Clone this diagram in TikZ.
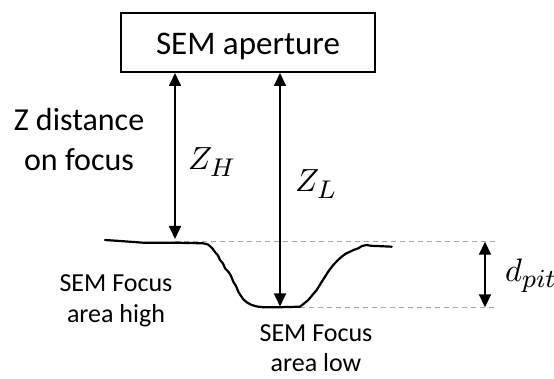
\documentclass[tikz,border=0pt]{standalone}
\usepackage{fontspec}
\setmainfont{Carlito}
\usetikzlibrary{arrows.meta}
% larger subscripts for the symbol labels
\DeclareMathSizes{10}{10}{7.8}{6}
\newcommand{\biglabel}[2][3.2]{\scalebox{#1}{\fontsize{10}{12}\selectfont$#2$}}
\begin{document}
\begin{tikzpicture}[x=1pt,y=-1pt,
  dim/.style={line width=1.7pt,{Triangle[length=13pt,width=12pt]}-{Triangle[length=13pt,width=12pt]}},
  guide/.style={draw=black!35,line width=0.9pt,dash pattern=on 5pt off 4pt},
  surface/.style={line width=2.2pt,line join=round,line cap=round},
  lbl/.style={anchor=base,inner sep=0pt},
  mathlbl/.style={anchor=base west,inner sep=0pt}]
\useasboundingbox (0,0) rectangle (554,379);

% aperture box
\node[draw,line width=2pt,minimum width=254pt,minimum height=59pt,inner sep=0pt]
  (ap) at (248,42.5) {};
\node[lbl,font=\fontsize{33}{40}\selectfont] (aptext) at (248,55) {SEM aperture};

% side labels
\node[lbl,font=\fontsize{32}{40}\selectfont] (zd1) at (79,130.7) {Z distance};
\node[lbl,font=\fontsize{32}{40}\selectfont] (zd2) at (79,170.5) {on focus};
\node[lbl,font=\fontsize{26}{33}\selectfont] (fh1) at (116,291) {SEM Focus};
\node[lbl,font=\fontsize{26}{33}\selectfont] (fh2) at (116,323) {area high};
\node[lbl,font=\fontsize{26}{33}\selectfont] (fl1) at (316,341) {SEM Focus};
\node[lbl,font=\fontsize{26}{33}\selectfont] (fl2) at (316,371) {area low};

% reference points on the surface
\coordinate (surfH) at (175,239);
\coordinate (pitB)  at (280,306.5);
\coordinate (topL)  at (175,241.7);
\coordinate (topR)  at (498,241.7);
\coordinate (botL)  at (300,307.3);
\coordinate (botR)  at (498,307.3);
\coordinate (dTop)  at (485,241.7);
\coordinate (dBot)  at (485,307.3);

% level guides
\draw[guide] (topL) -- (topR);
\draw[guide] (botL) -- (botR);

% surface profile with the pit
\draw[surface] (105,240) -- (120,241) -- (143,242.7) -- (175,242.7) -- (203,243.3)
  -- (208,244.5) -- (212,248) -- (215,252) -- (218,255.5) -- (220,260) -- (223,263.5)
  -- (225,268.3) -- (229,272.5) -- (231,276) -- (233.3,281.7) -- (236,286) -- (238.3,291.7)
  -- (241,296) -- (243.3,299.3) -- (247,302.5) -- (251.7,305) -- (257,306.5) -- (263.3,307.3)
  -- (280,307.2) -- (300,306.7) -- (304,303.5) -- (308.3,300) -- (312,295.5) -- (316.7,290)
  -- (321,283) -- (325,276.7) -- (329,270.5) -- (333.3,265) -- (337,261) -- (341.7,256.7)
  -- (346,253.5) -- (350,251.7) -- (354,249.8) -- (358.3,248.3) -- (362,246) -- (366.7,245)
  -- (371,245.8) -- (376.7,246) -- (391.7,246.7);

% distances
\draw[dim] (surfH |- ap.south) -- (surfH);
\draw[dim] (pitB |- ap.south) -- (pitB);
\draw[dim] (dTop) -- (dBot);

\node[mathlbl] (zh) at (188,170) {\biglabel{Z_H}};
\node[mathlbl] (zl) at (295,191.7) {\biglabel{Z_L}};
\node[mathlbl] (dp) at (505,281.7) {\biglabel[3.25]{d_{pit}}};
\end{tikzpicture}
\end{document}
